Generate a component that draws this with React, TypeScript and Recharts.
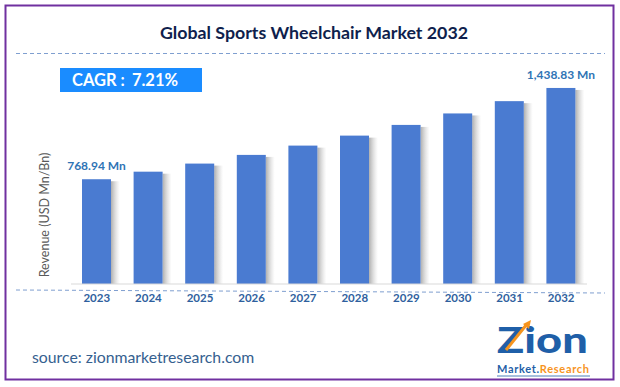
import { BarChart, Bar, XAxis, YAxis, LabelList } from 'recharts';

const years = ['2023', '2024', '2025', '2026', '2027', '2028', '2029', '2030', '2031', '2032'];
const revenue = [768.94, 824.4, 883.8, 947.5, 1015.8, 1089.1, 1167.6, 1251.8, 1342.0, 1438.83];
const valueLabels = ['768.94 Mn', '', '', '', '', '', '', '', '', '1,438.83 Mn'];

const data = years.map((year, i) => ({ year, value: revenue[i], label: valueLabels[i] }));

const FONT = 'Lato, "Open Sans", sans-serif';

const ShadowBar = (props: any) => {
  const { x, y, width, height } = props;
  if (height <= 0) return null;
  return (
    <g>
      <rect x={x + width} y={y + 2} width={9} height={height - 2} fill="url(#barShadow)" />
      <rect x={x} y={y} width={width} height={height} fill="#4a7bd1" />
    </g>
  );
};

const ValueLabel = (props: any) => {
  const { x, y, width, value } = props;
  if (!value) return null;
  return (
    <text x={x + width / 2} y={y - 9} textAnchor="middle" fill="#2f74b5" fontFamily={FONT} fontWeight={700} fontSize={12}>
      {value}
    </text>
  );
};

export default function App() {
  return (
    <div style={{ position: 'absolute', left: 0, top: 0, width: 620, height: 387, background: '#fff', fontFamily: FONT }}>
      <BarChart width={620} height={387} data={data} margin={{ top: 66, right: 33, bottom: 73, left: 71 }}>
        <defs>
          <linearGradient id="barShadow" x1="0" y1="0" x2="1" y2="0">
            <stop offset="0%" stopColor="#8c8c8c" stopOpacity={0.7} />
            <stop offset="100%" stopColor="#bfbfbf" stopOpacity={0} />
          </linearGradient>
        </defs>
        <YAxis hide domain={[0, 1600]} />
        <XAxis
          dataKey="year"
          axisLine={{ stroke: '#d9d9d9' }}
          tickLine={false}
          tickMargin={4}
          interval={0}
          tick={{ fill: '#2f5f9e', fontSize: 11.5, fontWeight: 700, fontFamily: FONT }}
        />
        <Bar dataKey="value" barSize={29} shape={ShadowBar} isAnimationActive={false}>
          <LabelList dataKey="label" content={ValueLabel} />
        </Bar>
      </BarChart>

      <svg width={620} height={387} style={{ position: 'absolute', left: 0, top: 0, pointerEvents: 'none' }}>
        <rect x={5.5} y={5.5} width={608} height={374} fill="none" stroke="#7030a0" strokeWidth={2} />
        <text x={314} y={39} textAnchor="middle" fill="#0f1f4d" fontFamily={FONT} fontWeight={700} fontSize={17.8}>
          Global Sports Wheelchair Market 2032
        </text>
        <line x1={16} y1={53.5} x2={605} y2={53.5} stroke="#7f9fd0" strokeWidth={1} strokeDasharray="4 3" />
        <line x1={16} y1={290} x2={605} y2={293} stroke="#7f9fd0" strokeWidth={1} strokeDasharray="4 3" />
        <rect x={60} y={68} width={142} height={24} fill="#1a8cff" />
        <text x={72} y={86} fill="#ffffff" fontFamily={FONT} fontWeight={700} fontSize={16.5}>
          CAGR :<tspan dx={7}>7.21%</tspan>
        </text>
        <text
          transform="translate(49 215) rotate(-90)"
          textAnchor="middle"
          fill="#595959"
          fontFamily={FONT}
          fontSize={12.5}
        >
          Revenue (USD Mn/Bn)
        </text>
        <text x={32} y={363} fill="#35608f" fontFamily={FONT} fontSize={15.8}>
          source: zionmarketresearch.com
        </text>
        <g>
          <text transform="translate(497 353) scale(1.22 1)" fill="#1f5fa8" fontFamily={FONT} fontWeight={900} fontSize={37}>
            Zion
          </text>
          <line x1={506} y1={350} x2={527} y2={324} stroke="#f7941d" strokeWidth={3} />
          <polygon points="523,324 531,320 529,329" fill="#f7941d" />
          <text x={497} y={373} textLength={92} fill="#1f5fa8" fontFamily={FONT} fontWeight={700} fontSize={11}>
            Market.
            <tspan fill="#f7941d">Research</tspan>
          </text>
          <line x1={497} y1={376} x2={590} y2={376} stroke="#1f5fa8" strokeWidth={0.8} />
        </g>
      </svg>
    </div>
  );
}
